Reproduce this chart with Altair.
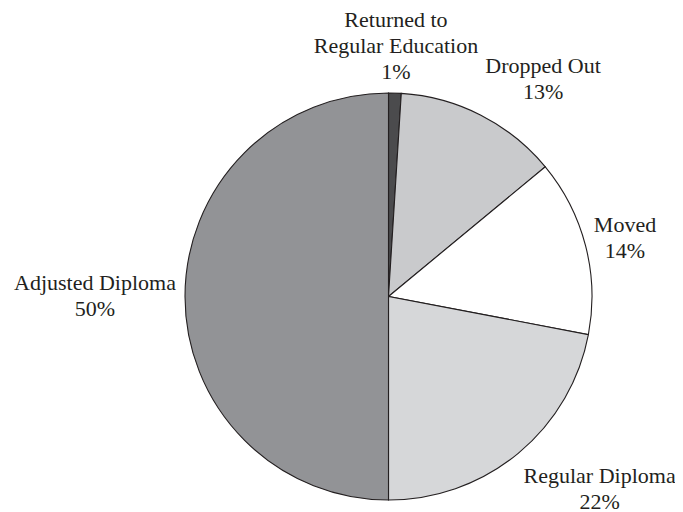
import altair as alt
import pandas as pd

categories = ["Returned to Regular Education", "Dropped Out", "Moved",
              "Regular Diploma", "Adjusted Diploma"]
values = [1, 13, 14, 22, 50]
label_names = ["Returned to|Regular Education", "Dropped Out", "Moved",
               "Regular Diploma", "Adjusted Diploma"]
colors = ["#4b4b4d", "#c9cacc", "#ffffff", "#d6d7d9", "#929396"]

df = pd.DataFrame({
    "category": categories,
    "value": values,
    "idx": list(range(len(categories))),
    "label": [f"{n}|{v}%" for n, v in zip(label_names, values)],
})
df["mid"] = df["value"].cumsum() - df["value"] / 2

theta_scale = alt.Scale(domain=[0, 100])

pie = alt.Chart(df).mark_arc(stroke="#231f20", strokeWidth=1.1).encode(
    theta=alt.Theta("value:Q", stack=True, scale=theta_scale),
    color=alt.Color("category:N", scale=alt.Scale(domain=categories, range=colors), legend=None),
    order=alt.Order("idx:Q"),
)

# label nudges (dx, dy) from a common radius, per slice
nudges = [(-1, 0), (32, 17), (-25, 3), (39, -22), (-23.5, -6.5)]

layers = [pie]
for name, (dx, dy) in zip(categories, nudges):
    layers.append(
        alt.Chart(df)
        .transform_filter(alt.datum.category == name)
        .mark_text(radius=270, dx=dx, dy=dy, align="center", baseline="alphabetic",
                   lineBreak="|", font="Liberation Serif", fontSize=22,
                   color="#231f20", lineHeight=26)
        .encode(
            theta=alt.Theta("mid:Q", stack=None, scale=theta_scale),
            text="label:N",
        )
    )

chart = alt.layer(*layers).properties(
    width=407, height=407,
    autosize=alt.AutoSizeParams(type="none"),
    padding={"left": 177, "top": 85, "right": 83, "bottom": 16},
).configure_view(stroke=None)

chart.save("out.html", embed_options={"renderer": "svg", "actions": False})
